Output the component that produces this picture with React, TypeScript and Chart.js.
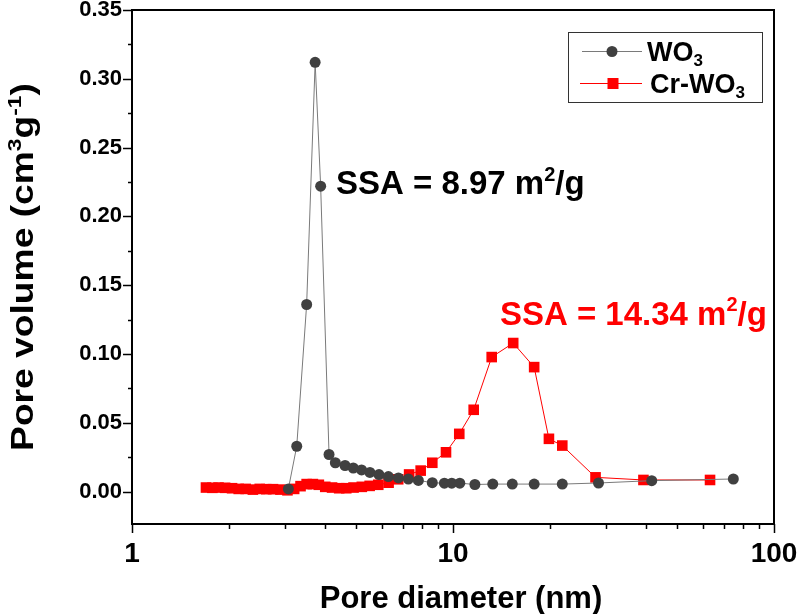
import React, { useEffect, useRef } from 'react';
import { Chart, registerables } from 'chart.js';

Chart.register(...registerables);

// ---- Data ----
const wo3Diameter = [3.07, 3.26, 3.5, 3.72, 3.87, 4.11, 4.3, 4.61, 4.89, 5.19, 5.51, 5.88, 6.29, 6.76, 7.26, 7.8, 8.62, 9.4, 9.91, 10.5, 11.7, 13.3, 15.3, 17.9, 21.9, 28.4, 41.6, 74.7];
const wo3Volume = [0.002, 0.033, 0.136, 0.312, 0.222, 0.027, 0.021, 0.019, 0.0172, 0.0158, 0.014, 0.0124, 0.011, 0.01, 0.0092, 0.0082, 0.0065, 0.0062, 0.0062, 0.0062, 0.0052, 0.0055, 0.0055, 0.0055, 0.0055, 0.0063, 0.008, 0.0092];

const crDiameter = [1.7, 1.78, 1.86, 1.95, 2.05, 2.15, 2.26, 2.38, 2.5, 2.62, 2.75, 2.9, 3.05, 3.2, 3.35, 3.5, 3.66, 3.82, 4.0, 4.2, 4.42, 4.65, 4.9, 5.2, 5.5, 5.85, 6.3, 6.75, 7.3, 7.93, 8.62, 9.51, 10.46, 11.6, 13.2, 15.4, 17.9, 19.9, 21.9, 27.8, 39.2, 63.2];
const crVolume = [0.003, 0.0028, 0.003, 0.0028, 0.0025, 0.002, 0.002, 0.0015, 0.002, 0.0018, 0.0018, 0.0015, 0.001, 0.002, 0.004, 0.0055, 0.0055, 0.005, 0.0035, 0.003, 0.0025, 0.0025, 0.003, 0.0035, 0.0042, 0.005, 0.0065, 0.009, 0.0125, 0.0153, 0.021, 0.0286, 0.042, 0.0595, 0.0978, 0.108, 0.0905, 0.0384, 0.0335, 0.0104, 0.0085, 0.0085];

const seriesNames = ['WO\u2083', 'Cr-WO\u2083'];
const xTickValues = [1, 10, 100];
const xMinorTickValues = [2, 3, 4, 5, 6, 7, 8, 9, 20, 30, 40, 50, 60, 70, 80, 90];
const yTickValues = [0, 0.05, 0.1, 0.15, 0.2, 0.25, 0.3, 0.35];
const yMinorTickValues = [0.025, 0.075, 0.125, 0.175, 0.225, 0.275, 0.325];

const FONT = "'Liberation Sans', Arial, Helvetica, sans-serif";
const WO3_LINE = '#7a7a7a';
const WO3_MARK = '#404040';
const CR_COLOR = '#ff0000';

type Seg = { t: string; sup?: boolean; sub?: boolean };

function drawRich(
  ctx: CanvasRenderingContext2D,
  segs: Seg[],
  x: number,
  middleY: number,
  size: number,
  color: string,
  align: 'left' | 'center'
) {
  ctx.save();
  ctx.fillStyle = color;
  ctx.textBaseline = 'alphabetic';
  ctx.textAlign = 'left';
  const small = Math.round(size * 0.62);
  const widths = segs.map((s) => {
    ctx.font = `bold ${s.sup || s.sub ? small : size}px ${FONT}`;
    return ctx.measureText(s.t).width;
  });
  const total = widths.reduce((a, b) => a + b, 0);
  let cx = align === 'center' ? x - total / 2 : x;
  const baseline = middleY + size * 0.36;
  segs.forEach((s, i) => {
    ctx.font = `bold ${s.sup || s.sub ? small : size}px ${FONT}`;
    const dy = s.sup ? -size * 0.4 : s.sub ? size * 0.2 : 0;
    ctx.fillText(s.t, cx, baseline + dy);
    cx += widths[i];
  });
  ctx.restore();
}

const decorPlugin = {
  id: 'decor',
  afterDraw(chart: any) {
    const { ctx, chartArea } = chart;
    const xs = chart.scales.x;
    const ys = chart.scales.y;
    const { left, right, top, bottom } = chartArea;

    ctx.save();
    ctx.strokeStyle = '#000';
    ctx.lineWidth = 2;
    // frame top & right
    ctx.beginPath();
    ctx.moveTo(left, top);
    ctx.lineTo(right, top);
    ctx.lineTo(right, bottom);
    ctx.stroke();

    // y ticks
    ctx.lineWidth = 1.5;
    ctx.beginPath();
    yTickValues.forEach((v) => {
      const py = Math.round(ys.getPixelForValue(v)) + 0.5;
      ctx.moveTo(left - 9, py);
      ctx.lineTo(left, py);
    });
    yMinorTickValues.forEach((v) => {
      const py = Math.round(ys.getPixelForValue(v)) + 0.5;
      ctx.moveTo(left - 4, py);
      ctx.lineTo(left, py);
    });
    // x ticks
    xTickValues.forEach((v) => {
      const px = Math.round(xs.getPixelForValue(v)) + 0.5;
      ctx.moveTo(px, bottom);
      ctx.lineTo(px, bottom + 9);
    });
    xMinorTickValues.forEach((v) => {
      const px = Math.round(xs.getPixelForValue(v)) + 0.5;
      ctx.moveTo(px, bottom);
      ctx.lineTo(px, bottom + 5);
    });
    ctx.stroke();
    ctx.restore();

    // Axis titles
    drawRich(ctx, [{ t: 'Pore diameter (nm)' }], 461, 597, 31, '#000', 'center');
    ctx.save();
    ctx.translate(22, (top + bottom) / 2);
    ctx.rotate(-Math.PI / 2);
    ctx.scale(1.2, 1);
    drawRich(
      ctx,
      [{ t: 'Pore volume (cm' }, { t: '3', sup: true }, { t: 'g' }, { t: '-1', sup: true }, { t: ')' }],
      0,
      0,
      31,
      '#000',
      'center'
    );
    ctx.restore();

    // Annotations (anchored at data coordinates)
    drawRich(
      ctx,
      [{ t: 'SSA = 8.97 m' }, { t: '2', sup: true }, { t: '/g' }],
      xs.getPixelForValue(4.32),
      ys.getPixelForValue(0.225),
      33,
      '#000',
      'left'
    );
    drawRich(
      ctx,
      [{ t: 'SSA = 14.34 m' }, { t: '2', sup: true }, { t: '/g' }],
      xs.getPixelForValue(14.0),
      ys.getPixelForValue(0.13),
      33,
      CR_COLOR,
      'left'
    );

    // Legend
    ctx.save();
    ctx.strokeStyle = '#333';
    ctx.lineWidth = 1;
    ctx.strokeRect(568.5, 32.5, 194, 70);
    // entry 1
    ctx.strokeStyle = WO3_LINE;
    ctx.beginPath();
    ctx.moveTo(582, 51.5);
    ctx.lineTo(642, 51.5);
    ctx.stroke();
    ctx.fillStyle = WO3_MARK;
    ctx.beginPath();
    ctx.arc(612, 51.5, 5.5, 0, Math.PI * 2);
    ctx.fill();
    // entry 2
    ctx.strokeStyle = CR_COLOR;
    ctx.beginPath();
    ctx.moveTo(580, 83.5);
    ctx.lineTo(642, 83.5);
    ctx.stroke();
    ctx.fillStyle = CR_COLOR;
    ctx.fillRect(607.5, 78, 11, 11);
    ctx.restore();
    drawRich(ctx, [{ t: 'WO' }, { t: '3', sub: true }], 647, 51, 27, '#000', 'left');
    drawRich(ctx, [{ t: 'Cr-WO' }, { t: '3', sub: true }], 650, 83, 27, '#000', 'left');
  },
};

export default function App() {
  const canvasRef = useRef<HTMLCanvasElement | null>(null);

  useEffect(() => {
    if (!canvasRef.current) return;
    const chart = new Chart(canvasRef.current, {
      type: 'line',
      data: {
        datasets: [
          {
            label: seriesNames[0],
            data: wo3Diameter.map((d, i) => ({ x: d, y: wo3Volume[i] })),
            borderColor: WO3_LINE,
            borderWidth: 1,
            pointStyle: 'circle',
            pointRadius: 5.5,
            pointBackgroundColor: WO3_MARK,
            pointBorderColor: WO3_MARK,
            pointBorderWidth: 0,
            tension: 0,
          },
          {
            label: seriesNames[1],
            data: crDiameter.map((d, i) => ({ x: d, y: crVolume[i] })),
            borderColor: CR_COLOR,
            borderWidth: 1,
            pointStyle: 'rect',
            pointRadius: 7.5,
            pointBackgroundColor: CR_COLOR,
            pointBorderColor: CR_COLOR,
            pointBorderWidth: 0,
            tension: 0,
          },
        ],
      },
      options: {
        responsive: false,
        animation: false,
        devicePixelRatio: 1,
        layout: { padding: { left: 0, top: 10, right: 26, bottom: 0 } },
        plugins: { legend: { display: false }, tooltip: { enabled: false } },
        scales: {
          x: {
            type: 'logarithmic',
            min: 1,
            max: 100,
            afterBuildTicks: (s: any) => {
              s.ticks = xTickValues.map((v) => ({ value: v }));
            },
            afterFit: (s: any) => {
              s.height = 90;
              s.paddingLeft = 0;
              s.paddingRight = 0;
            },
            ticks: {
              autoSkip: false,
              maxRotation: 0,
              padding: 4,
              color: '#000',
              font: { family: FONT, size: 28, weight: 'bold' },
              callback: (v: any) => String(v),
            },
            grid: { display: true, drawOnChartArea: false, drawTicks: true, tickLength: 9, color: 'rgba(0,0,0,0)' },
            border: { display: true, color: '#000', width: 2 },
          },
          y: {
            type: 'linear',
            min: -0.0235,
            max: 0.35,
            afterBuildTicks: (s: any) => {
              s.ticks = yTickValues.map((v) => ({ value: v }));
            },
            afterFit: (s: any) => {
              s.width = 132;
              s.paddingTop = 0;
              s.paddingBottom = 0;
            },
            ticks: {
              autoSkip: false,
              padding: 1,
              color: '#000',
              font: { family: FONT, size: 22, weight: 'bold' },
              callback: (v: any) => Number(v).toFixed(2),
            },
            grid: { display: true, drawOnChartArea: false, drawTicks: true, tickLength: 9, color: 'rgba(0,0,0,0)' },
            border: { display: true, color: '#000', width: 2 },
          },
        },
      },
      plugins: [decorPlugin],
    } as any);
    return () => chart.destroy();
  }, []);

  return (
    <div style={{ position: 'absolute', left: 0, top: 0, width: 800, height: 614, background: '#fff' }}>
      <canvas ref={canvasRef} width={800} height={614} style={{ display: 'block', width: 800, height: 614 }} />
    </div>
  );
}
